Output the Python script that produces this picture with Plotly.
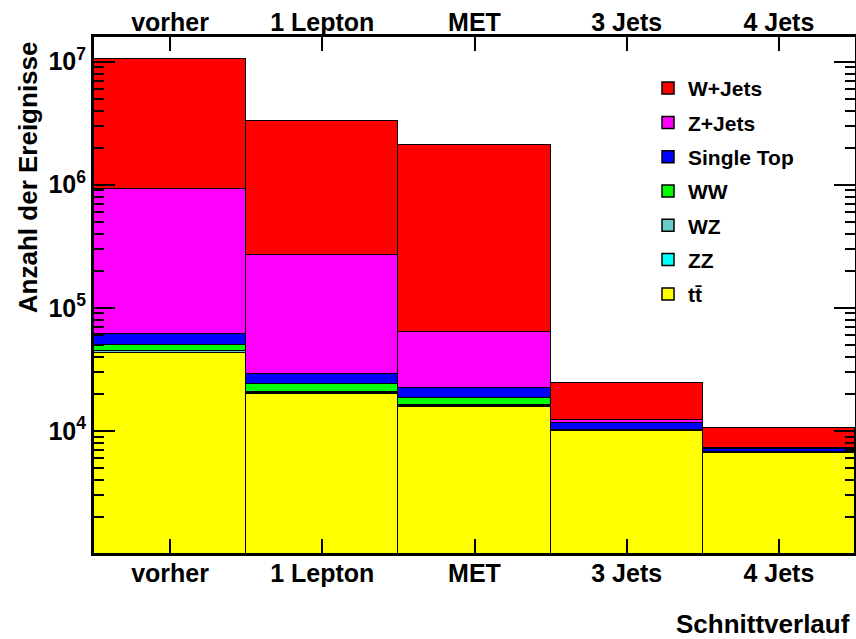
import plotly.graph_objects as go

categories = ["vorher", "1 Lepton", "MET", "3 Jets", "4 Jets"]

# event counts per sample (stack order bottom -> top)
ttbar = [42700, 20000, 15700, 10000, 6640]
zz = [600, 200, 150, 20, 10]
wz = [1600, 600, 450, 60, 30]
ww = [4600, 3300, 2100, 160, 60]
single_top = [11700, 5100, 3900, 1360, 340]
z_jets = [869000, 240800, 40800, 600, 150]
w_jets = [9570000, 3010000, 2047000, 12100, 3420]

y_tickvals = [1e4, 1e5, 1e6, 1e7]
y_ticktext = ["10<sup>4</sup>", "10<sup>5</sup>", "10<sup>6</sup>", "10<sup>7</sup>"]
y_minor_tickvals = [k * 10 ** e for e in range(3, 8) for k in range(2, 10)]

series = [
    ("tt\u0304", ttbar, "#FFFF00"),
    ("ZZ", zz, "#00FFFF"),
    ("WZ", wz, "#66CCCC"),
    ("WW", ww, "#00FF00"),
    ("Single Top", single_top, "#0000FF"),
    ("Z+Jets", z_jets, "#FF00FF"),
    ("W+Jets", w_jets, "#FF0000"),
]

FONT = "Liberation Sans, Arial, sans-serif"

fig = go.Figure()
n = len(series)
for i, (name, vals, col) in enumerate(series):
    fig.add_trace(go.Bar(
        x=categories, y=vals, name=name,
        marker=dict(color=col, line=dict(color="black", width=1.5)),
        legendgroup=name, legendrank=n - i,
    ))

# invisible trace so the top axis and the minor-tick axis are drawn
fig.add_trace(go.Scatter(x=categories, y=ttbar, xaxis="x2", yaxis="y2", mode="markers",
                         marker=dict(opacity=0), showlegend=False, hoverinfo="skip"))

tickfont = dict(family=FONT, size=25, color="black", weight="bold")
titlefont = dict(family=FONT, size=26, color="black", weight="bold")

fig.update_layout(
    width=856, height=639,
    margin=dict(l=94, r=1, t=37, b=86),
    paper_bgcolor="white", plot_bgcolor="white",
    barmode="stack", bargap=0,
    showlegend=True,
    legend=dict(x=0.728, y=0.94, xanchor="left", yanchor="top",
                bgcolor="rgba(0,0,0,0)", traceorder="grouped",
                tracegroupgap=4,
                font=dict(family=FONT, size=21, color="black", weight="bold")),
    xaxis=dict(type="category", range=[-0.5, 4.5], ticks="inside", ticklen=14,
               tickwidth=1.5, tickcolor="black", showline=True, linewidth=3,
               linecolor="black", mirror="allticks", tickfont=tickfont,
               showgrid=False, automargin=False, ticklabelstandoff=-4),
    xaxis2=dict(type="category", range=[-0.5, 4.5], overlaying="x", side="top",
                ticks="", tickfont=tickfont, showgrid=False, showline=False,
                matches="x", automargin=False),
    yaxis=dict(type="log", range=[3.008, 7.2], tickmode="array",
               tickvals=y_tickvals, ticktext=y_ticktext,
               ticks="inside", ticklen=21, tickwidth=2, tickcolor="black",
               showline=True, linewidth=3, linecolor="black", mirror="allticks",
               tickfont=tickfont, showgrid=False, automargin=False),
    yaxis2=dict(type="log", range=[3.008, 7.2], overlaying="y", side="left",
                tickmode="array", tickvals=y_minor_tickvals,
                ticks="inside", ticklen=10, tickwidth=1.5, tickcolor="black",
                showticklabels=False, showline=False, mirror="allticks",
                showgrid=False, zeroline=False, automargin=False),
    annotations=[
        dict(text="Anzahl der Ereignisse", xref="paper", yref="paper",
             x=-0.0866, y=0.996, xanchor="center", yanchor="top", textangle=-90,
             showarrow=False, font=titlefont),
        dict(text="Schnittverlauf", xref="paper", yref="paper",
             x=0.996, y=-0.1376, xanchor="right", yanchor="middle",
             showarrow=False, font=titlefont),
    ],
)

fig.write_html("out.html", config={"displayModeBar": False},
               post_script="document.body.style.margin='0';document.body.style.overflow='hidden';")
